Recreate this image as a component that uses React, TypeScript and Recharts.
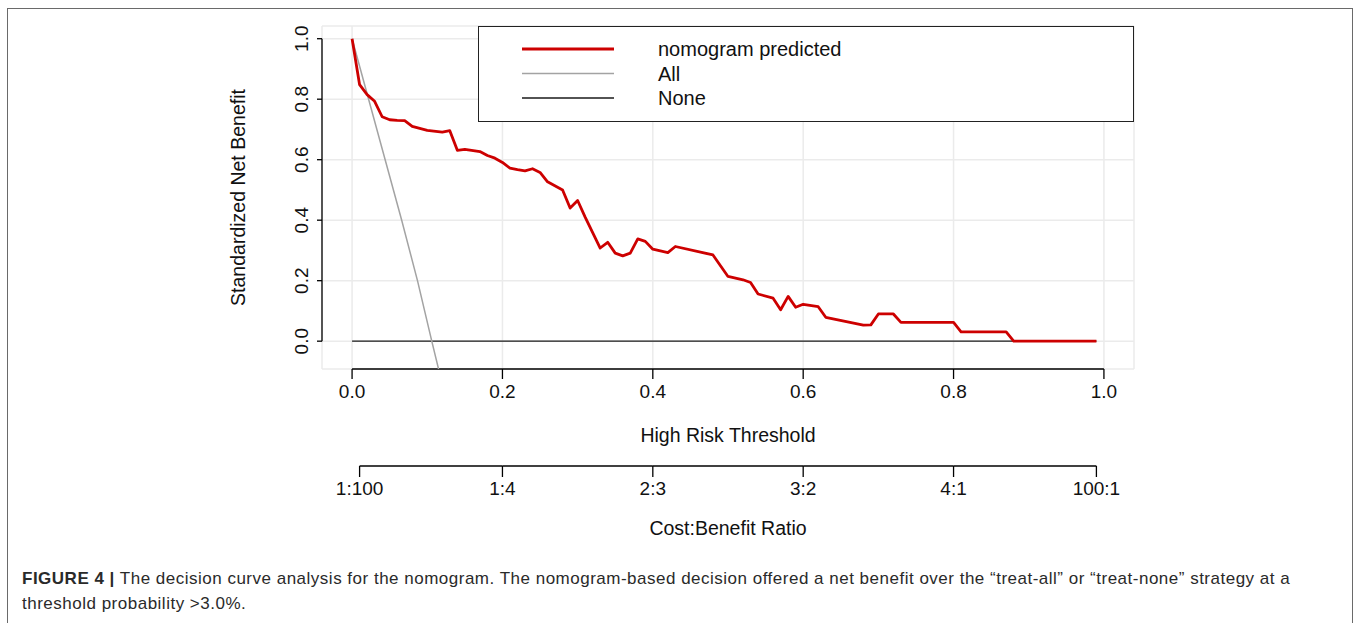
import React from 'react';
import { LineChart, Line, XAxis, YAxis, CartesianGrid, ReferenceLine, Legend, Label } from 'recharts';

// ---- data ----
const nomogramThreshold = [
  0, 0.01, 0.02, 0.03, 0.04, 0.05, 0.06, 0.07, 0.08, 0.10, 0.12, 0.13, 0.14, 0.15, 0.17, 0.18, 0.19, 0.20,
  0.21, 0.22, 0.23, 0.24, 0.25, 0.26, 0.28, 0.29, 0.30, 0.31, 0.32, 0.33, 0.34, 0.35, 0.36, 0.37, 0.38,
  0.39, 0.40, 0.42, 0.43, 0.48, 0.50, 0.52, 0.53, 0.54, 0.56, 0.57, 0.58, 0.59, 0.60, 0.62, 0.63, 0.68,
  0.69, 0.70, 0.72, 0.73, 0.80, 0.81, 0.87, 0.88, 0.99,
];
const nomogramBenefit = [
  1.0, 0.848, 0.815, 0.793, 0.742, 0.732, 0.73, 0.729, 0.71, 0.697, 0.691, 0.696, 0.631, 0.634, 0.627, 0.614, 0.605, 0.591,
  0.572, 0.567, 0.563, 0.57, 0.558, 0.527, 0.5, 0.44, 0.465, 0.41, 0.359, 0.308, 0.327, 0.291, 0.282, 0.291, 0.338,
  0.33, 0.304, 0.293, 0.313, 0.285, 0.214, 0.203, 0.194, 0.156, 0.142, 0.104, 0.148, 0.112, 0.122, 0.114, 0.079, 0.053,
  0.054, 0.09, 0.09, 0.062, 0.062, 0.031, 0.031, 0, 0,
];
const allThreshold = [0, 0.022, 0.044, 0.066, 0.087, 0.106, 0.115];
const allBenefit = [1, 0.8, 0.6, 0.4, 0.2, 0, -0.092];
const noneThreshold = [0, 0.99];
const noneBenefit = [0, 0];

const thresholdTicks = [0, 0.2, 0.4, 0.6, 0.8, 1];
const thresholdTickLabels = ['0.0', '0.2', '0.4', '0.6', '0.8', '1.0'];
const benefitTicks = [0, 0.2, 0.4, 0.6, 0.8, 1];
const benefitTickLabels = ['0.0', '0.2', '0.4', '0.6', '0.8', '1.0'];
const costTicks = [0.01, 0.2, 0.4, 0.6, 0.8, 0.99];
const costTickLabels = ['1:100', '1:4', '2:3', '3:2', '4:1', '100:1'];

const seriesNames = ['nomogram predicted', 'All', 'None'];
const seriesColors = ['#cd0000', '#a3a3a3', '#1a1a1a'];
const seriesWidths = [2.8, 1.5, 1.4];

const X_DOMAIN: [number, number] = [-0.04, 1.04];
const Y_DOMAIN: [number, number] = [-0.092, 1.042];

const zip = (xs: number[], ys: number[]) => xs.map((x, i) => ({ x, y: ys[i] }));
const nomogramData = zip(nomogramThreshold, nomogramBenefit);
const allData = zip(allThreshold, allBenefit);
const noneData = zip(noneThreshold, noneBenefit);

const FONT = '"Liberation Sans", Arial, Helvetica, sans-serif';
const TICK_FS = 19;
const LABEL_FS = 19.5;
const COST_TICK_SIZE = 11;
const COST_TICK_MARGIN = 5;
const Y_AXIS_WIDTH = 100;

const ThresholdTick = (props: any) => {
  const { x, y, index } = props;
  return (
    <text x={x} y={y} dy="0.71em" textAnchor="middle" fontSize={TICK_FS} fontFamily={FONT} fill="#111">
      {thresholdTickLabels[index]}
    </text>
  );
};

const BenefitTick = (props: any) => {
  const { x, y, index } = props;
  const label = benefitTickLabels[index] ?? String(props.payload?.value ?? '');
  return (
    <g transform={`translate(${x}, ${y})`}>
      <text x={0} y={0} textAnchor="middle" fontSize={TICK_FS} fontFamily={FONT} fill="#111" transform="rotate(-90)">
        {label}
      </text>
    </g>
  );
};

const CostTick = (props: any) => {
  const { x, y, index, width } = props;
  const axisY = y - COST_TICK_SIZE - COST_TICK_MARGIN;
  const w = typeof width === 'number' && width > 100 ? width : 812;
  const pxPerUnit = w / (X_DOMAIN[1] - X_DOMAIN[0]);
  const nextX = index < costTicks.length - 1 ? x + (costTicks[index + 1] - costTicks[index]) * pxPerUnit : x;
  return (
    <g>
      <line x1={x} x2={nextX} y1={axisY} y2={axisY} stroke="#000" strokeWidth={1.3} />
      <text x={x} y={y} dy="0.71em" textAnchor="middle" fontSize={TICK_FS} fontFamily={FONT} fill="#111">
        {costTickLabels[index]}
      </text>
    </g>
  );
};

const LegendBox = () => (
  <div
    style={{
      width: 656,
      height: 96,
      boxSizing: 'border-box',
      border: '1.3px solid #222',
      background: '#fff',
      position: 'relative',
      fontFamily: FONT,
    }}
  >
    <svg width={656} height={96} style={{ position: 'absolute', left: -1, top: -1 }}>
      {seriesNames.map((name, i) => (
        <g key={name}>
          <line x1={44} x2={136} y1={23 + i * 24.5} y2={23 + i * 24.5} stroke={seriesColors[i]} strokeWidth={seriesWidths[i]} />
          <text x={180} y={23 + i * 24.5} dy="0.35em" fontSize={20} fill="#111" fontFamily={FONT}>
            {name}
          </text>
        </g>
      ))}
    </svg>
  </div>
);

export default function App() {
  return (
    <div style={{ position: 'absolute', left: 0, top: 0, width: 1357, height: 623, overflow: 'hidden', background: '#fff' }}>
      <div
        style={{
          position: 'absolute',
          left: 7,
          top: 8,
          width: 1346,
          height: 700,
          border: '1px solid #6a6a6a',
          boxSizing: 'border-box',
        }}
      />
      <div style={{ position: 'absolute', left: 0, top: 0 }}>
        <LineChart width={1357} height={623} margin={{ top: 26, left: 322 - Y_AXIS_WIDTH, right: 223, bottom: 77 }}>
          <CartesianGrid stroke="#ebebeb" strokeWidth={1.5} />
          <XAxis
            type="number"
            dataKey="x"
            domain={X_DOMAIN}
            allowDataOverflow
            ticks={thresholdTicks}
            interval={0}
            height={97}
            axisLine={false}
            tickLine={{ stroke: '#000', strokeWidth: 1.3 }}
            tickSize={10}
            tickMargin={6}
            tick={<ThresholdTick />}
          >
            <Label
              content={(p: any) => {
                const vb = p.viewBox || {};
                return (
                  <text x={vb.x + vb.width / 2} y={vb.y + 73} textAnchor="middle" fontSize={LABEL_FS} fontFamily={FONT} fill="#111">
                    High Risk Threshold
                  </text>
                );
              }}
            />
          </XAxis>
          <XAxis
            xAxisId="cost"
            type="number"
            dataKey="x"
            domain={X_DOMAIN}
            allowDataOverflow
            ticks={costTicks}
            interval={0}
            height={80}
            axisLine={false}
            tickLine={{ stroke: '#000', strokeWidth: 1.3 }}
            tickSize={COST_TICK_SIZE}
            tickMargin={COST_TICK_MARGIN}
            tick={<CostTick />}
          >
            <Label
              content={(p: any) => {
                const vb = p.viewBox || {};
                return (
                  <text x={vb.x + vb.width / 2} y={vb.y + 69} textAnchor="middle" fontSize={LABEL_FS} fontFamily={FONT} fill="#111">
                    Cost:Benefit Ratio
                  </text>
                );
              }}
            />
          </XAxis>
          <YAxis
            type="number"
            domain={Y_DOMAIN}
            allowDataOverflow
            ticks={benefitTicks}
            interval={0}
            width={Y_AXIS_WIDTH}
            axisLine={false}
            tickLine={{ stroke: '#000', strokeWidth: 1.3 }}
            tickSize={5}
            tickMargin={9}
            tick={<BenefitTick />}
          >
            <Label
              content={(p: any) => {
                const vb = p.viewBox || {};
                const cx = vb.x + vb.width - 77;
                const cy = vb.y + vb.height / 2;
                return (
                  <g transform={`translate(${cx}, ${cy})`}>
                    <text x={0} y={0} textAnchor="middle" fontSize={LABEL_FS} fontFamily={FONT} fill="#111" transform="rotate(-90)">
                      Standardized Net Benefit
                    </text>
                  </g>
                );
              }}
            />
          </YAxis>
          <ReferenceLine
            segment={[{ x: X_DOMAIN[0], y: 0 }, { x: X_DOMAIN[0], y: 1 }]}
            stroke="#000"
            strokeWidth={1.3}
            ifOverflow="visible"
          />
          <ReferenceLine
            segment={[{ x: 0, y: Y_DOMAIN[0] }, { x: 1, y: Y_DOMAIN[0] }]}
            stroke="#000"
            strokeWidth={1.3}
            ifOverflow="visible"
          />
          <Line data={noneData} dataKey="y" name={seriesNames[2]} type="linear" stroke={seriesColors[2]} strokeWidth={seriesWidths[2]} dot={false} isAnimationActive={false} />
          <Line data={allData} dataKey="y" name={seriesNames[1]} type="linear" stroke={seriesColors[1]} strokeWidth={seriesWidths[1]} dot={false} isAnimationActive={false} />
          <Line
            data={nomogramData}
            dataKey="y"
            name={seriesNames[0]}
            type="linear"
            stroke={seriesColors[0]}
            strokeWidth={seriesWidths[0]}
            strokeLinejoin="round"
            dot={false}
            isAnimationActive={false}
          />
          <Legend
            layout="horizontal"
            verticalAlign="middle"
            align="center"
            content={<LegendBox />}
            wrapperStyle={{ left: 478, top: 26, width: 656, height: 96 }}
          />
        </LineChart>
      </div>
      <div
        style={{
          position: 'absolute',
          left: 22,
          top: 566,
          fontFamily: FONT,
          fontSize: 17,
          letterSpacing: '0.5px',
          lineHeight: '25px',
          color: '#2a2a2a',
          whiteSpace: 'nowrap',
        }}
      >
        <div>
          <b>FIGURE 4 |</b> The decision curve analysis for the nomogram. The nomogram-based decision offered a net benefit over the “treat-all” or “treat-none” strategy at a
        </div>
        <div>threshold probability &gt;3.0%.</div>
      </div>
    </div>
  );
}
